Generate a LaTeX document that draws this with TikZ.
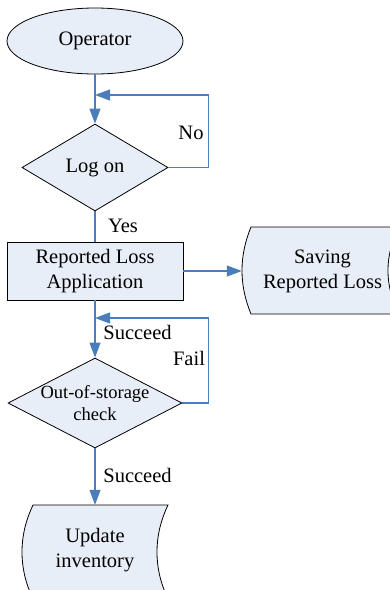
\documentclass[tikz,border=0pt]{standalone}
\usepackage{fontspec}
\setmainfont{Liberation Serif}
\usetikzlibrary{shapes.geometric,arrows.meta}
\definecolor{shfill}{HTML}{E8EEF7}
\definecolor{lnblue}{HTML}{4A7EBB}
\begin{document}
\begin{tikzpicture}[x=1pt,y=-1pt,
  shp/.style={draw=black, line width=0.8pt, fill=shfill},
  txt/.style={font=\fontsize{20.5}{25}\selectfont, align=center},
  conn/.style={draw=lnblue, line width=1.1pt},
  arr/.style={conn, -{Triangle[length=15pt,width=11pt]}},
  lbl/.style={font=\fontsize{20.5}{25}\selectfont, inner sep=0pt}]
\useasboundingbox (0,0) rectangle (390,590);
\clip (0,0) rectangle (390,590);
% shapes
\node[shp, ellipse, minimum width=176pt, minimum height=66pt, inner sep=0pt, txt] (op) at (95,41) {Operator};
\node[shp, diamond, minimum width=146pt, minimum height=87pt, inner sep=0pt, txt] (logon) at (95,167.5) {Log on};
\node[shp, rectangle, minimum width=176pt, minimum height=58pt, inner sep=0pt, txt] (box) at (95,271) {Reported Loss\\Application};
\node[shp, diamond, minimum width=174pt, minimum height=90pt, inner sep=0pt,
  label={[txt, font=\fontsize{18.5}{22}\selectfont]center:Out-of-storage\\check}] (chk) at (95,403) {};
% stored data: Saving Reported Loss
\path[shp] (251,227) -- (399,227) .. controls (384.3,256) and (384.3,285) .. (399,314)
  -- (251,314) .. controls (239,285) and (239,256) .. (251,227) -- cycle;
\node[txt, minimum width=161pt, minimum height=87pt, inner sep=0pt] (save) at (322.5,271) {Saving\\Reported Loss};
% stored data: Update inventory
\path[shp] (33,505) -- (168,505) .. controls (153.3,536) and (153.3,568) .. (168,599)
  -- (33,599) .. controls (18.3,568) and (18.3,536) .. (33,505) -- cycle;
\node[txt, minimum width=146pt, minimum height=90pt, inner sep=0pt] (upd) at (95,550) {Update\\inventory};
% junctions
\coordinate (j1) at (95,95);
\coordinate (j2) at (95,318);
% connectors
\draw[arr] (op) -- (logon);
\draw[arr] (logon.east) -- ++(40,0) |- (j1);
\draw[conn] (logon) -- (box);
\draw[arr] (box.east) -- (save.west);
\draw[arr] (box) -- (chk);
\draw[arr] (chk.east) -- ++(26,0) |- (j2);
\draw[arr] (chk) -- (upd);
% labels
\node[lbl] (no) at (191,133) {No};
\node[lbl] (yes) at (123,226) {Yes};
\node[lbl] (s1) at (137.5,332) {Succeed};
\node[lbl] (fail) at (189,358) {Fail};
\node[lbl] (s2) at (137.5,475) {Succeed};
\end{tikzpicture}
\end{document}
